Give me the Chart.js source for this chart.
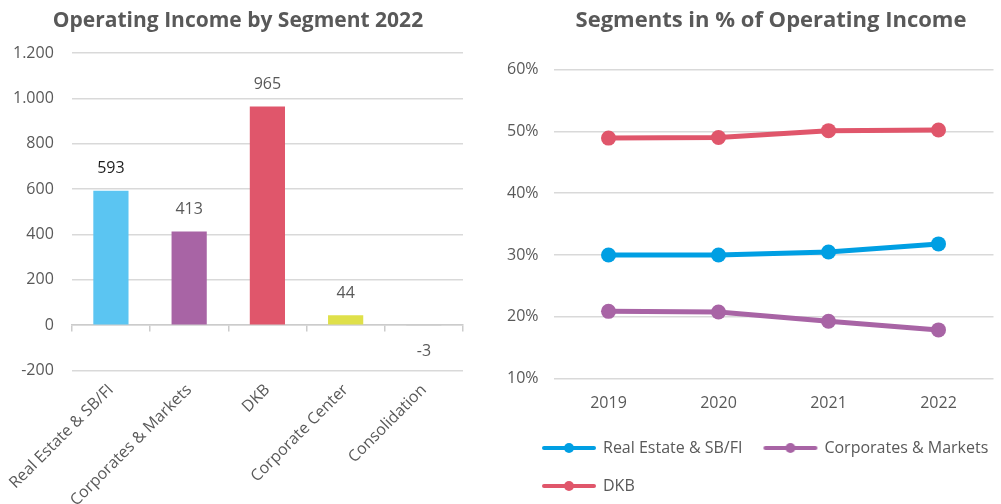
<!DOCTYPE html>
<html>
<head>
<meta charset="utf-8">
<script src="https://cdn.jsdelivr.net/npm/chart.js@4.4.1/dist/chart.umd.min.js"></script>
<style>
  html, body { margin: 0; padding: 0; background: #fff; overflow: hidden; width: 1001px; height: 504px; }
  #left { position: absolute; left: 0; top: 0; width: 480px; height: 504px; }
  #right { position: absolute; left: 495px; top: 0; width: 506px; height: 504px; }
</style>
</head>
<body>
<div id="left"><canvas id="barChart"></canvas></div>
<div id="right"><canvas id="lineChart"></canvas></div>
<script>
const segments = ["Real Estate & SB/FI", "Corporates & Markets", "DKB", "Corporate Center", "Consolidation"];
const income2022 = [593, 413, 965, 44, -3];
const barColors = ["#5bc5f2", "#a864a5", "#e0566b", "#dfe04a", "#bdbdbd"];

const years = ["2019", "2020", "2021", "2022"];
const shareRealEstate = [30.0, 30.0, 30.5, 31.8];
const shareCorporates = [20.9, 20.8, 19.3, 17.9];
const shareDkb = [48.9, 49.0, 50.1, 50.2];

const FONT = "'Open Sans', sans-serif";
const TEXT = "#595959";
const GRID = "#d9d9d9";

Chart.defaults.font.family = FONT;
Chart.defaults.color = TEXT;
Chart.defaults.animation = false;

// german thousands separator: 1200 -> 1.200
function formatNum(v) {
  return String(v).replace(/\B(?=(\d{3})+(?!\d))/g, ".");
}

const barLabels = {
  id: "barLabels",
  afterDatasetsDraw(chart) {
    const ctx = chart.ctx;
    const meta = chart.getDatasetMeta(0);
    ctx.save();
    ctx.font = "16px " + FONT;
    ctx.textAlign = "center";
    ctx.textBaseline = "middle";
    meta.data.forEach((bar, i) => {
      const v = income2022[i];
      ctx.fillStyle = i === 0 ? "#1e1e1e" : TEXT;
      const y = v >= 0 ? bar.y - 22 : bar.base + 25;
      ctx.fillText(formatNum(v), bar.x, y);
    });
    ctx.restore();
  },
};

new Chart(document.getElementById("barChart"), {
  type: "bar",
  data: {
    labels: segments,
    datasets: [{
      data: income2022,
      backgroundColor: barColors,
      barPercentage: 0.9,
      categoryPercentage: 0.5,
    }],
  },
  options: {
    responsive: true,
    maintainAspectRatio: false,
    layout: { padding: { left: 13, right: 17, top: 0, bottom: 0 } },
    plugins: {
      legend: { display: false },
      tooltip: { enabled: false },
      title: {
        display: true,
        text: "Operating Income by Segment 2022",
        color: TEXT,
        font: { size: 21, weight: "bold" },
        padding: { top: 8, bottom: 20 },
      },
    },
    scales: {
      x: {
        grid: { display: false, drawTicks: false },
        border: { display: false },
        ticks: { autoSkip: false, maxRotation: 45, minRotation: 45, font: { size: 16 }, color: TEXT, padding: 10 },
        afterFit(axis) {
          axis.paddingLeft = 0;
          axis.paddingRight = 0;
          axis.height -= 16; // labels run off the bottom edge like the original
        },
      },
      x0: {
        type: "category",
        position: { y: 0 },
        offset: true,
        grid: { drawOnChartArea: false, drawTicks: true, tickLength: 6, color: "#cccccc", lineWidth: 1.5, offset: true },
        border: { display: true, color: "#cccccc", width: 1.5 },
        ticks: { display: false },
      },
      y: {
        min: -200,
        max: 1200,
        ticks: { stepSize: 200, font: { size: 16 }, color: TEXT, padding: 18, callback: (v) => formatNum(v) },
        grid: { color: GRID, lineWidth: 1.5, drawTicks: false },
        border: { display: false },
        afterFit(axis) { axis.width -= 18; },
      },
    },
  },
  plugins: [barLabels],
});

function legendIcon(color) {
  const c = document.createElement("canvas");
  c.width = 56;
  c.height = 12;
  const g = c.getContext("2d");
  g.strokeStyle = color;
  g.lineWidth = 4;
  g.lineCap = "round";
  g.beginPath();
  g.moveTo(3, 6);
  g.lineTo(53, 6);
  g.stroke();
  g.fillStyle = color;
  g.beginPath();
  g.arc(28, 6, 5, 0, Math.PI * 2);
  g.fill();
  return c;
}

function lineSet(label, data, color) {
  return {
    label,
    data,
    borderColor: color,
    backgroundColor: color,
    borderWidth: 5,
    pointRadius: 7.5,
    pointBackgroundColor: color,
    pointBorderWidth: 0,
    tension: 0,
  };
}

// nudge title and legend to where the original has them
const nudge = {
  id: "nudge",
  afterLayout(chart) {
    chart.titleBlock.left += 17;
    chart.titleBlock.right += 17;
    chart.legend.left += 14;
    chart.legend.right += 14;
  },
};

new Chart(document.getElementById("lineChart"), {
  type: "line",
  data: {
    labels: years,
    datasets: [
      lineSet("Real Estate & SB/FI", shareRealEstate, "#009fe3"),
      lineSet("Corporates & Markets", shareCorporates, "#a864a5"),
      lineSet("DKB", shareDkb, "#e0566b"),
    ],
  },
  options: {
    responsive: true,
    maintainAspectRatio: false,
    layout: { padding: { left: 12, right: 0, top: 0, bottom: 0 } },
    plugins: {
      tooltip: { enabled: false },
      title: {
        display: true,
        text: "Segments in % of Operating Income",
        color: TEXT,
        font: { size: 22, weight: "bold" },
        padding: { top: 8, bottom: 35 },
      },
      legend: {
        position: "bottom",
        align: "start",
        labels: {
          usePointStyle: true,
          pointStyleWidth: 52,
          padding: 22,
          color: TEXT,
          font: { size: 16 },
          generateLabels(chart) {
            const items = Chart.defaults.plugins.legend.labels.generateLabels(chart);
            items.forEach((it) => {
              it.pointStyle = legendIcon(chart.data.datasets[it.datasetIndex].borderColor);
            });
            return items;
          },
        },
      },
    },
    scales: {
      x: {
        offset: true,
        grid: { display: false, drawTicks: false },
        border: { display: false },
        ticks: { font: { size: 16 }, color: TEXT, padding: 15 },
        afterFit(axis) { axis.height -= 10; },
      },
      y: {
        min: 10,
        max: 60,
        ticks: { stepSize: 10, font: { size: 16 }, color: TEXT, padding: 15, callback: (v) => v + "%" },
        grid: { color: GRID, lineWidth: 1.5, drawTicks: false },
        border: { display: false },
        afterFit(axis) { axis.width -= 15; },
      },
    },
  },
  plugins: [nudge],
});
</script>
</body>
</html>
